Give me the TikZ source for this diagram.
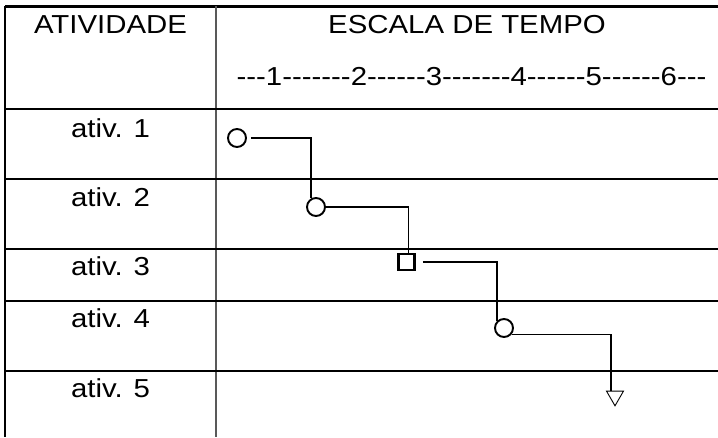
\documentclass[tikz,border=0pt]{standalone}
\usepackage{fontspec}
\setmainfont{Liberation Sans}[FakeStretch=1.13]
\usepackage{tikz}
\usetikzlibrary{shapes,positioning,calc}

% a run of plain hyphens (no en/em dash ligatures)
\newcommand{\dashrun}[1]{\foreach \i in {1,...,#1}{-}}

\begin{document}
\begin{tikzpicture}[x=1pt, y=-1pt,
    rule/.style={line width=2pt},
    lbl/.style={anchor=base, inner sep=0pt, font=\fontsize{26}{30}\selectfont},
    evt/.style={circle, draw, line width=1.9pt, minimum size=18pt, inner sep=0pt},
    sqbox/.style={rectangle, draw, line width=2.8pt, minimum size=16pt, inner sep=0pt},
    tri/.style={regular polygon, regular polygon sides=3, shape border rotate=180, draw, line width=0.9pt, minimum size=19.6pt, inner sep=0pt},
    link/.style={line width=1.6pt}]
    \useasboundingbox (0,0) rectangle (718,437);
    % frame and rows
    \draw[line width=3pt] (5,6) -- (718,6);
    \draw[line width=2.5pt] (5,6) -- (5,437);
    \draw[line width=1.1pt, black!65] (216,6) -- (216,437);
    \foreach \y in {109,179,249,301,371}
        \draw[rule] (5,\y) -- (718,\y);
    % header
    \node[lbl] (hdact) at (110.5,33) {ATIVIDADE};
    \node[lbl] (hdtime) at (467,33) {ESCALA DE TEMPO};
    \node[lbl] (axis) at (471.5,85) {\dashrun{3}1\dashrun{7}2\dashrun{6}3\dashrun{7}4\dashrun{6}5\dashrun{6}6\dashrun{3}};
    % activities
    \foreach \k/\b in {1/137,2/206,3/275,4/327,5/397}
        \node[lbl] (a\k) at (110.5,\b) {ativ. \k};
    % events in time
    \node[evt] (c1) at (237,138) {};
    \node[evt] (c2) at (316,207) {};
    \node[sqbox] (s3) at (406.5,262) {};
    \node[evt] (c4) at (504,328) {};
    \node[tri] (t5) at (615,396) {};
    \draw[link] ([xshift=4pt]c1.east) -| (c2.120);
    \draw[link] (c2.east) -| ([xshift=2pt]s3.north);
    \draw[link] ([xshift=7pt]s3.east) -| (c4.north west);
    \draw[link] (c4.-40) -| ([xshift=-4pt]t5.north);
\end{tikzpicture}
\end{document}
